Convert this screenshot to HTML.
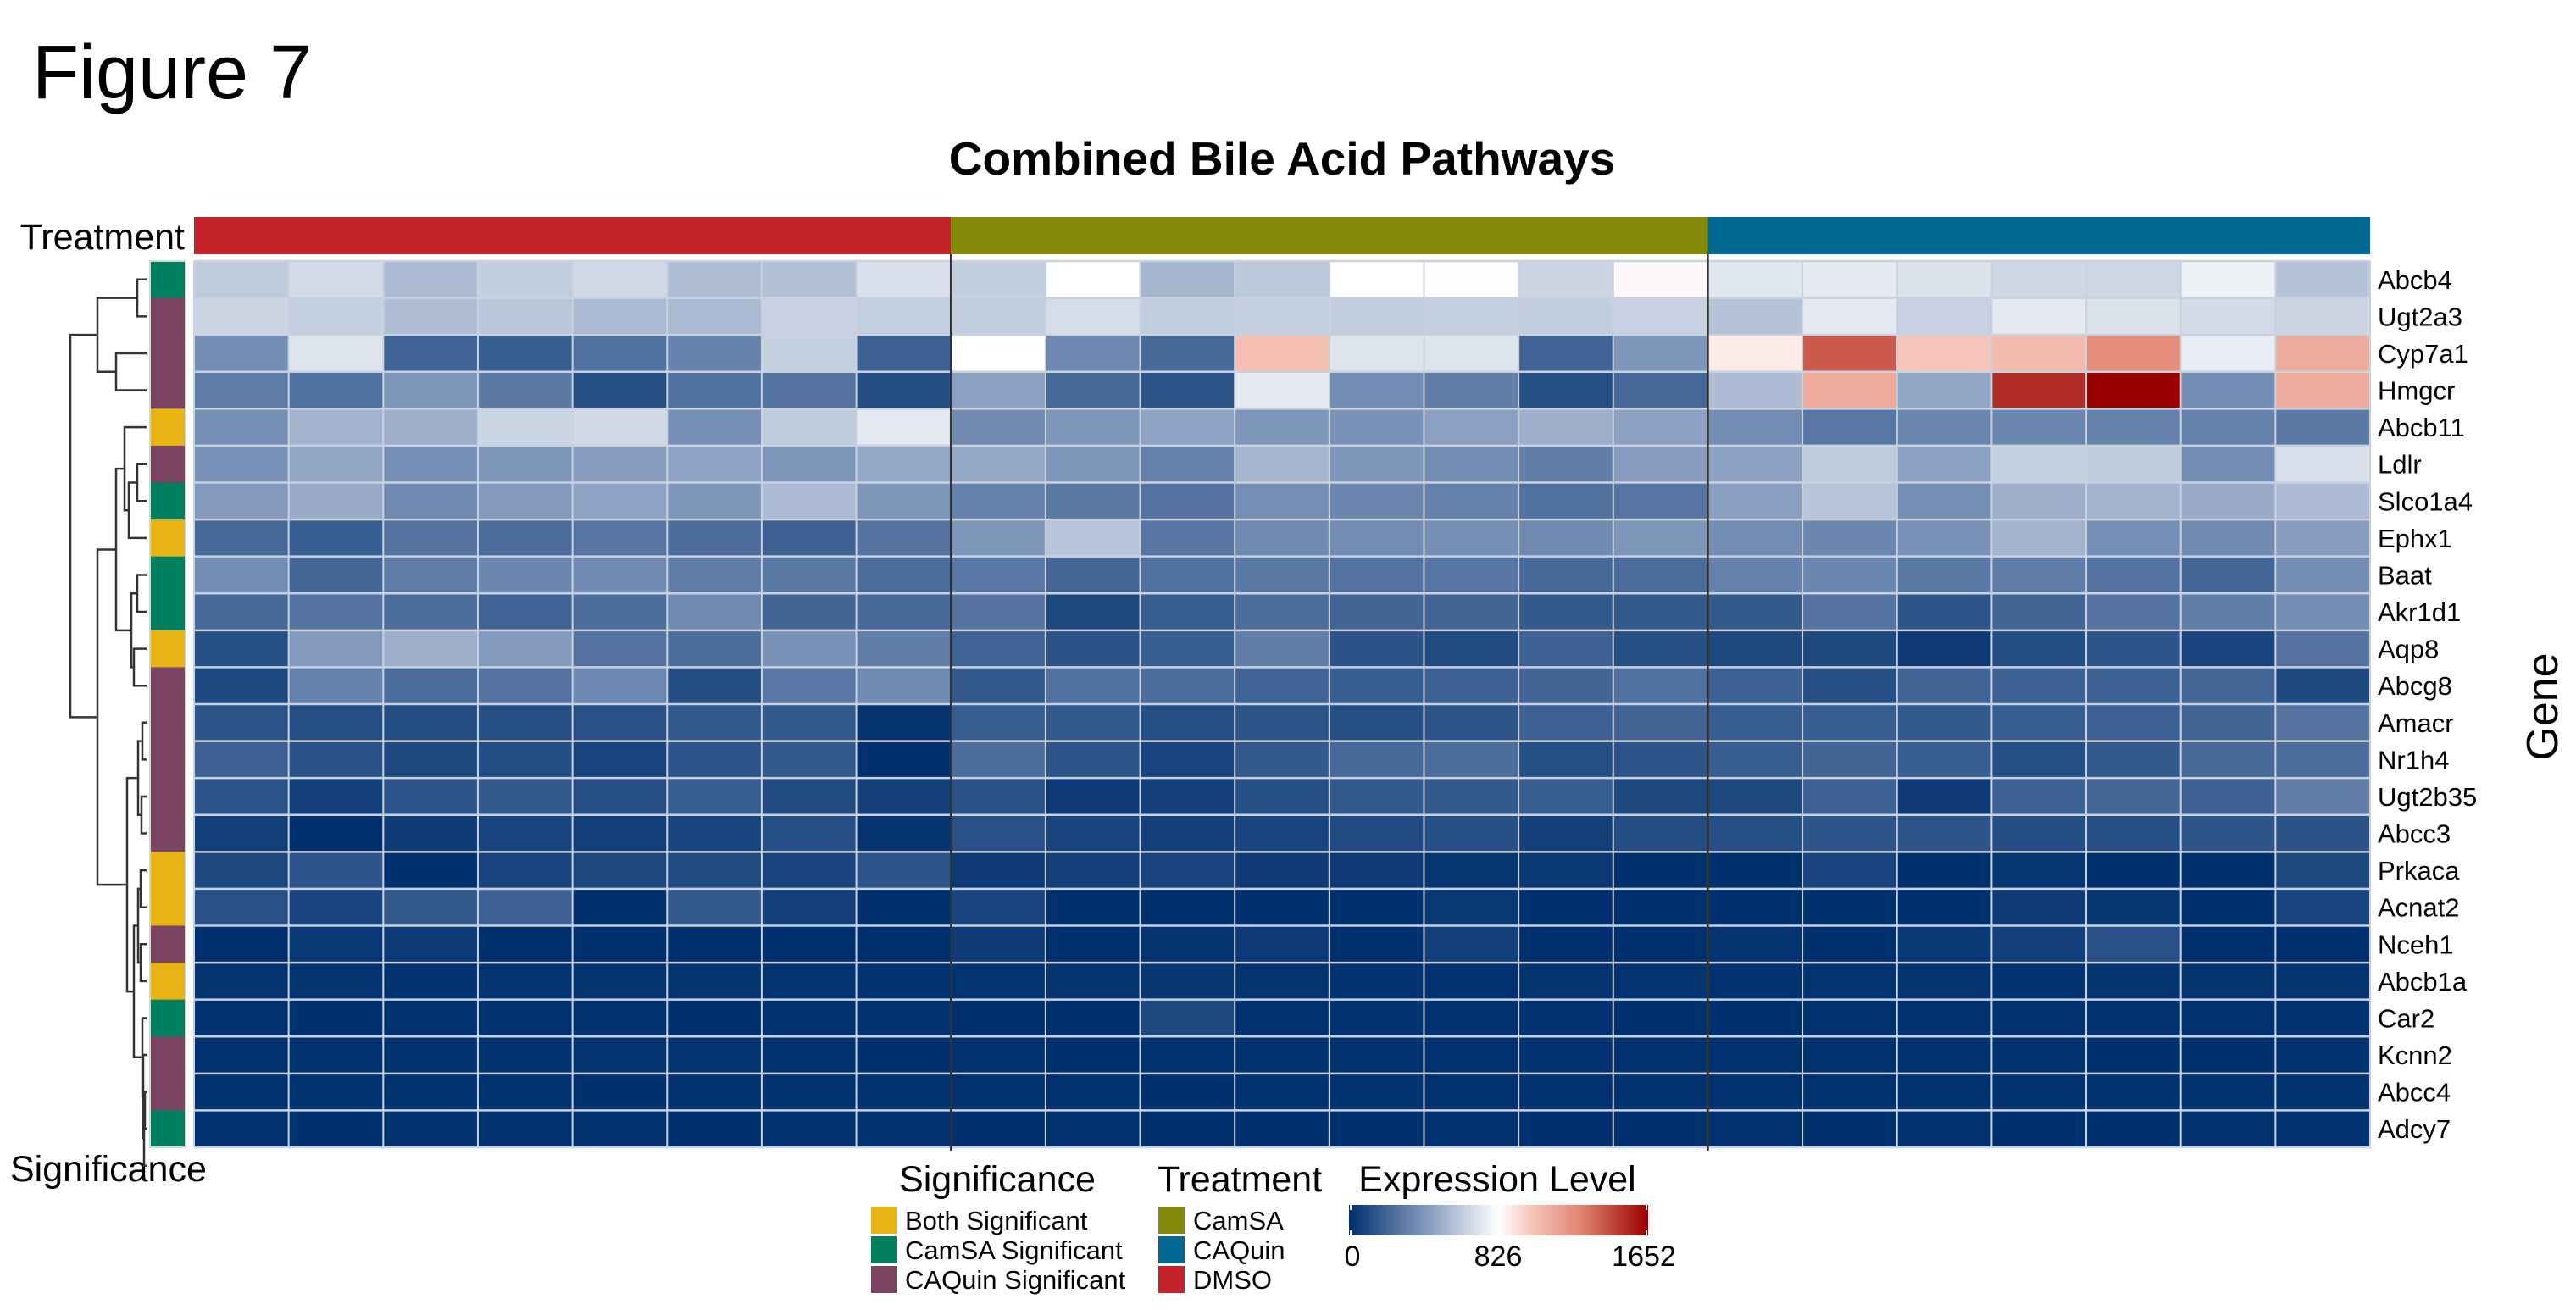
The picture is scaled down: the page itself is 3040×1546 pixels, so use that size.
<!DOCTYPE html>
<html><head><meta charset="utf-8"><style>
html,body{margin:0;padding:0;background:#fff;}
svg{display:block;font-family:"Liberation Sans",sans-serif;}
</style></head><body>
<svg id="fig" width="3040" height="1546" viewBox="0 0 3040 1546">
<text x="38" y="116" font-size="90">Figure 7</text>
<text x="1513" y="206" font-size="55" font-weight="bold" text-anchor="middle">Combined Bile Acid Pathways</text>
<text x="218" y="294" font-size="43" text-anchor="end">Treatment</text>
<text x="12" y="1394" font-size="43">Significance</text>
<text x="0" y="0" font-size="52" text-anchor="middle" transform="translate(3018,834) rotate(-90)">Gene</text>
<g id="treat"></g>
<g id="cells"></g>
<g id="grid"></g>
<g id="sig"></g>
<g id="dendro"></g>
<g id="genes"></g>
<g id="legend">
  <text x="1177" y="1406" font-size="43" text-anchor="middle">Significance</text>
  <text x="1463" y="1406" font-size="43" text-anchor="middle">Treatment</text>
  <text x="1767" y="1406" font-size="43" text-anchor="middle">Expression Level</text>
  <defs><linearGradient id="cg" x1="0" x2="1" y1="0" y2="0">
    <stop offset="0" stop-color="#00306e"/><stop offset="0.25" stop-color="#7f96bb"/><stop offset="0.5" stop-color="#ffffff"/><stop offset="0.62" stop-color="#f5c0b4"/><stop offset="0.78" stop-color="#e0826e"/><stop offset="1" stop-color="#9a0000"/>
  </linearGradient></defs>
  <rect x="1592" y="1422" width="353" height="36" fill="url(#cg)"/>
  <line x1="1594" y1="1422" x2="1594" y2="1428" stroke="#fff" stroke-width="2"/>
  <line x1="1594" y1="1452" x2="1594" y2="1458" stroke="#fff" stroke-width="2"/>
  <line x1="1943" y1="1422" x2="1943" y2="1428" stroke="#fff" stroke-width="2"/>
  <line x1="1943" y1="1452" x2="1943" y2="1458" stroke="#fff" stroke-width="2"/>
  <text x="1596" y="1494" font-size="34" text-anchor="middle">0</text>
  <text x="1768" y="1494" font-size="34" text-anchor="middle">826</text>
  <text x="1940" y="1494" font-size="34" text-anchor="middle">1652</text>
</g>
</svg>
<script>
const genes=["Abcb4","Ugt2a3","Cyp7a1","Hmgcr","Abcb11","Ldlr","Slco1a4","Ephx1","Baat","Akr1d1","Aqp8","Abcg8","Amacr","Nr1h4","Ugt2b35","Abcc3","Prkaca","Acnat2","Nceh1","Abcb1a","Car2","Kcnn2","Abcc4","Adcy7"];
const groups=["DMSO","CamSA","CAQuin"];
const groupSizes=[8,8,7];
const significance=["CamSA Significant","CAQuin Significant","CAQuin Significant","CAQuin Significant","Both Significant","CAQuin Significant","CamSA Significant","Both Significant","CamSA Significant","CamSA Significant","Both Significant","CAQuin Significant","CAQuin Significant","CAQuin Significant","CAQuin Significant","CAQuin Significant","Both Significant","Both Significant","CAQuin Significant","Both Significant","CamSA Significant","CAQuin Significant","CAQuin Significant","CamSA Significant"];
const scaleMax=1652;
const r0=[620,686,562,628,677,570,578,702,628,826,537,611,826,818,661,845,727,743,710,669,669,768,586];
const r1=[661,636,570,603,553,553,644,636,628,694,628,636,628,636,628,644,586,743,644,743,710,686,661];
const r2=[372,719,207,182,264,330,636,198,826,355,231,1030,719,719,207,413,892,1400,1008,1050,1240,760,1115];
const r3=[306,264,413,297,124,264,273,116,454,231,149,743,372,314,124,231,562,1115,471,1530,1652,372,1115];
const r4=[380,529,512,661,677,380,620,743,363,413,463,413,396,454,512,454,372,289,347,347,330,330,297];
const r5=[396,471,388,413,438,463,413,479,479,413,330,537,413,372,314,438,454,620,454,636,620,372,702];
const r6=[430,496,363,430,463,413,562,413,330,297,273,380,347,330,264,281,446,595,380,512,529,496,562];
const r7=[231,182,273,248,281,248,198,273,413,595,281,363,372,380,363,413,372,347,396,529,380,363,438];
const r8=[372,223,306,347,363,314,297,248,289,223,264,297,273,281,231,248,330,347,297,314,273,223,372];
const r9=[231,273,248,207,248,363,215,231,273,99,182,248,215,215,165,165,165,273,149,215,273,314,372];
const r10=[124,430,512,430,273,248,396,314,207,140,182,314,140,107,198,124,99,99,41,116,149,83,273];
const r11=[99,330,248,273,355,116,289,363,165,264,248,207,182,198,215,264,198,124,215,198,198,223,99];
const r12=[149,124,116,124,132,165,165,17,182,165,124,149,124,149,198,215,182,182,165,182,198,215,273];
const r13=[198,140,99,116,83,149,165,0,248,149,83,165,231,248,124,149,182,215,182,124,165,231,248];
const r14=[149,66,149,165,124,182,107,66,132,41,66,124,165,165,182,99,99,198,50,198,223,198,314];
const r15=[66,0,50,83,58,83,124,17,132,83,66,83,107,124,66,116,124,149,149,116,124,149,140];
const r16=[99,149,0,83,99,107,83,149,41,66,83,50,41,25,33,0,0,83,0,25,0,0,99];
const r17=[132,83,165,198,0,165,66,0,83,0,0,0,0,33,0,0,0,0,0,50,25,0,83];
const r18=[0,33,41,0,0,0,0,0,50,0,17,41,0,66,0,0,17,0,33,66,132,0,0];
const r19=[20,12,8,14,12,16,14,10,14,22,30,12,10,8,12,14,10,14,12,10,16,12,16];
const r20=[8,2,6,4,8,2,6,10,2,0,99,6,8,10,8,2,2,4,8,6,8,6,10];
const r21=[4,10,8,10,14,14,10,2,6,2,8,8,6,4,8,8,6,4,6,4,2,2,6];
const r22=[6,4,6,4,0,6,8,10,6,4,0,6,8,4,6,4,6,6,8,10,8,8,8];
const r23=[4,2,4,4,4,2,4,4,2,4,2,2,2,4,2,2,4,2,4,2,2,4,4];
const values=[r0,r1,r2,r3,r4,r5,r6,r7,r8,r9,r10,r11,r12,r13,r14,r15,r16,r17,r18,r19,r20,r21,r22,r23];

const NS="http://www.w3.org/2000/svg";
const X0=229,X1=2797,Y0=308,Y1=1354;
const nCols=groupSizes.reduce((a,b)=>a+b,0);
const cw=(X1-X0)/nCols, rh=(Y1-Y0)/genes.length;
const xOf=c=>X0+c*cw, yOf=r=>Y0+r*rh;
function mk(tag,attrs,parent){const e=document.createElementNS(NS,tag);for(const k in attrs)e.setAttribute(k,attrs[k]);parent.appendChild(e);return e;}
const stops=[[0,[0,48,110]],[0.25,[127,150,187]],[0.5,[255,255,255]],[0.62,[245,192,180]],[0.78,[224,130,110]],[1,[154,0,0]]];
function color(v){
  const t=Math.max(0,Math.min(1,v/scaleMax));
  for(let i=1;i<stops.length;i++){
    if(t<=stops[i][0]){
      const a=stops[i-1],b=stops[i],f=(t-a[0])/(b[0]-a[0]);
      return `rgb(${Math.round(a[1][0]+(b[1][0]-a[1][0])*f)},${Math.round(a[1][1]+(b[1][1]-a[1][1])*f)},${Math.round(a[1][2]+(b[1][2]-a[1][2])*f)})`;
    }
  }
  return "rgb(154,0,0)";
}
const treatColors={DMSO:"#c4232b",CamSA:"#858a0a",CAQuin:"#006891"};
const sigColors={"Both Significant":"#e8b414","CamSA Significant":"#00805e","CAQuin Significant":"#7a4462"};

const treat=document.getElementById('treat');
let c=0;
groups.forEach((g,i)=>{
  const r=mk('rect',{x:xOf(c),y:256,width:groupSizes[i]*cw,height:44,fill:treatColors[g]},treat);
  
  
  c+=groupSizes[i];
});

const cells=document.getElementById('cells');
values.forEach((row,ri)=>row.forEach((v,ci)=>{
  const r=mk('rect',{x:xOf(ci),y:yOf(ri),width:cw+0.5,height:rh+0.5,fill:color(v)},cells);
  
  
}));
const grid=document.getElementById('grid');
for(let i=0;i<=nCols;i++) mk('line',{x1:xOf(i),y1:Y0,x2:xOf(i),y2:Y1,stroke:"#c9d1de","stroke-width":2},grid);
for(let j=0;j<=genes.length;j++) mk('line',{x1:X0,y1:yOf(j),x2:X1,y2:yOf(j),stroke:"#c9d1de","stroke-width":2.5},grid);
let acc=0;
groupSizes.slice(0,-1).forEach(s=>{acc+=s;
  const l=mk('line',{x1:xOf(acc),y1:300,x2:xOf(acc),y2:Y1+4,stroke:"#333","stroke-width":2.5},grid);
  
  
});

const sig=document.getElementById('sig');
significance.forEach((s,ri)=>{
  const r=mk('rect',{x:177,y:yOf(ri),width:42,height:rh+0.5,fill:sigColors[s]},sig);
  
  
});
mk('rect',{x:177,y:Y0,width:42,height:Y1-Y0,fill:"none",stroke:"#d0d8d0","stroke-width":2},sig);

const genesG=document.getElementById('genes');
genes.forEach((g,ri)=>{
  const t=mk('text',{x:2806,y:yOf(ri)+rh/2+11,"font-size":31},genesG);
  t.textContent=g;
  
  
});

const merges=[[0,1,162],[2,3,137],["n0","n1",115],[5,6,162],["n3",7,152],[4,"n4",147],[8,9,162],[10,11,158],["n6","n7",155],["n5","n8",137],[12,13,168],[14,15,167],["n10","n11",163],[16,17,166],[18,19,166],["n13","n14",163],[22,23,171],["n16",24,170],[21,"n17",169],[20,"n18",168],["n15","n19",158],["n12","n20",150],["n9","n21",115],["n2","n22",83]];
const dendro=document.getElementById('dendro');
const nodes={};
function pos(k){if(typeof k==="number")return {x:173,y:yOf(k)+rh/2};return nodes[k];}
merges.forEach((m,i)=>{
  const a=pos(m[0]),b=pos(m[1]),h=m[2];
  const p=mk('path',{d:`M${a.x},${a.y}H${h}V${b.y}H${b.x}`,fill:"none",stroke:"#333","stroke-width":2.5},dendro);
  
  
  nodes["n"+i]={x:h,y:(a.y+b.y)/2};
});

const leg=document.getElementById('legend');
const sigKeys=["Both Significant","CamSA Significant","CAQuin Significant"];
sigKeys.forEach((k,i)=>{
  const y=1424+i*35;
  const r=mk('rect',{x:1028,y:y,width:30,height:32,fill:sigColors[k]},leg);
  
  
  const t=mk('text',{x:1068,y:y+27,"font-size":31},leg);
  t.textContent=k;
  
  
});
["CamSA","CAQuin","DMSO"].forEach((k,i)=>{
  const y=1424+i*35;
  const r=mk('rect',{x:1367,y:y,width:31,height:32,fill:treatColors[k]},leg);
  
  
  const t=mk('text',{x:1408,y:y+27,"font-size":31},leg);
  t.textContent=k;
  
  
});
</script>
</body></html>
